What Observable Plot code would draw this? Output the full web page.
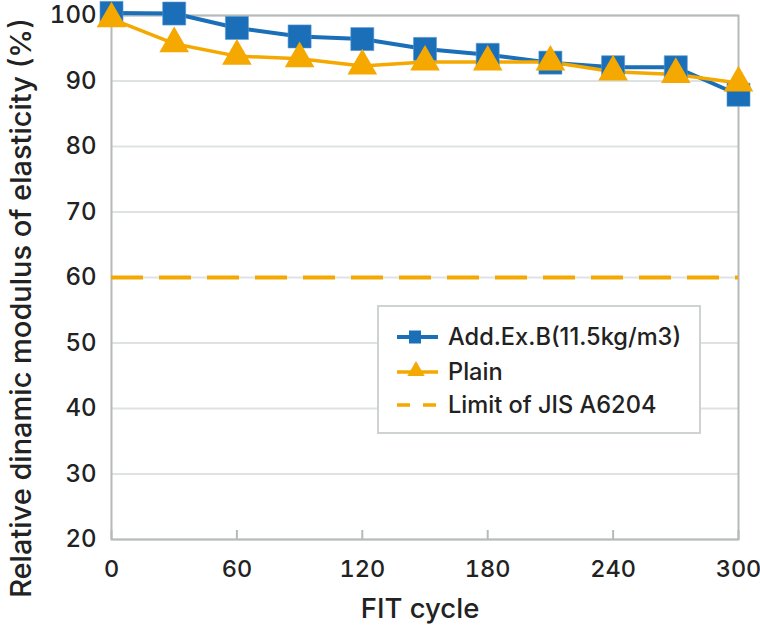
<!DOCTYPE html>
<html><head><meta charset="utf-8">
<script src="https://cdn.jsdelivr.net/npm/d3@7"></script>
<script src="https://cdn.jsdelivr.net/npm/@observablehq/plot@0.6"></script>
<style>
body{margin:0;background:#fff;font-family:Inter,"Noto Sans",sans-serif}
#wrap{position:relative;width:760px;height:626px}
</style></head><body>
<div id="wrap"></div>
<script>
const cycles = [0, 30, 60, 90, 120, 150, 180, 210, 240, 270, 300];
const addExB = [100.4, 100.3, 98.1, 96.8, 96.4, 94.9, 94.0, 92.8, 92.1, 92.1, 87.9];
const plain  = [99.5, 95.7, 93.8, 93.4, 92.3, 92.9, 92.9, 92.9, 91.4, 91.0, 89.7];
const limitValue = 60;
const xTicks = [0, 60, 120, 180, 240, 300];
const yTicks = [20, 30, 40, 50, 60, 70, 80, 90, 100];
const seriesNames = ["Add.Ex.B(11.5kg/m3)", "Plain", "Limit of JIS A6204"];
const xTitle = "FIT cycle";
const yTitle = "Relative dinamic modulus of elasticity (%)";

const blue = "#1a6fb8", orange = "#f5a800", font = "Inter, 'Noto Sans', sans-serif", ink = "#222";
const rowsA = cycles.map((c, i) => ({c, v: addExB[i]}));
const rowsP = cycles.map((c, i) => ({c, v: plain[i]}));

const plot = Plot.plot({
  width: 760, height: 626,
  marginLeft: 111, marginRight: 22, marginTop: 15, marginBottom: 87,
  style: {fontFamily: font, background: "#fff", overflow: "visible", fontWeight: 500},
  x: {domain: [0, 300]},
  y: {domain: [20, 100]},
  marks: [
    Plot.gridY(yTicks, {stroke: "#dfe2e2", strokeOpacity: 1, strokeWidth: 2}),
    Plot.frame({stroke: "#b6baba", strokeWidth: 2}),
    Plot.axisX(xTicks, {tickSize: 0, tickPadding: 21, fontSize: 23.5, fill: ink, label: null}),
    Plot.axisX(xTicks, {tickSize: -9, text: null, stroke: "#b6baba", strokeWidth: 2, label: null}),
    Plot.axisY(yTicks, {tickSize: 0, tickPadding: 15, fontSize: 24, fill: ink, label: null}),
    Plot.ruleY([limitValue], {stroke: orange, strokeWidth: 4, strokeDasharray: "32,16"}),
    Plot.line(rowsA, {x: "c", y: "v", stroke: blue, strokeWidth: 4}),
    Plot.line(rowsP, {x: "c", y: "v", stroke: orange, strokeWidth: 3.5}),
    Plot.dot(rowsA, {x: "c", y: "v", symbol: "square", r: 13, fill: blue, stroke: "#5b9bd5", strokeWidth: 0.6}),
    Plot.dot(rowsP, {x: "c", y: "v", symbol: "triangle", r: 11, fill: orange, stroke: "none"})
  ]
});

const svg = d3.select(plot);
// keep the last x tick label inside the picture, as in the reference
const xLabels = svg.selectAll('g[aria-label="x-axis tick label"] text').nodes();
if (xLabels.length) d3.select(xLabels[xLabels.length - 1]).attr("dx", -6);

svg.append("text").attr("x", 420).attr("y", 618).attr("text-anchor", "middle")
  .attr("font-size", 27.5).attr("fill", ink).attr("font-family", font).text(xTitle);
svg.append("text").attr("transform", "translate(31,308) rotate(-90)").attr("text-anchor", "middle")
  .attr("font-size", 29).attr("fill", ink).attr("font-family", font).text(yTitle);

// legend
const lg = svg.append("g").attr("transform", "translate(378,306)");
lg.append("rect").attr("width", 322).attr("height", 127).attr("fill", "#fff")
  .attr("stroke", "#cfd2d2").attr("stroke-width", 2);
const rowY = [31, 66, 99];
lg.append("line").attr("x1", 19).attr("x2", 60).attr("y1", rowY[0]).attr("y2", rowY[0]).attr("stroke", blue).attr("stroke-width", 4);
lg.append("rect").attr("x", 31).attr("y", rowY[0] - 6.5).attr("width", 12).attr("height", 13).attr("fill", blue);
lg.append("line").attr("x1", 19).attr("x2", 60).attr("y1", rowY[1]).attr("y2", rowY[1]).attr("stroke", orange).attr("stroke-width", 3.5);
lg.append("path").attr("d", d3.symbol(d3.symbolTriangle, 130)()).attr("transform", `translate(38,${rowY[1] - 1})`).attr("fill", orange);
lg.append("line").attr("x1", 19).attr("x2", 60).attr("y1", rowY[2]).attr("y2", rowY[2]).attr("stroke", orange).attr("stroke-width", 3.5).attr("stroke-dasharray", "13,13");
seriesNames.forEach((n, i) => {
  lg.append("text").attr("x", 70).attr("y", rowY[i]).attr("dy", "0.36em").attr("text-anchor", "start")
    .attr("font-size", 23.6).attr("fill", ink).attr("font-family", font).text(n);
});

document.getElementById("wrap").appendChild(plot);
</script>
</body></html>
